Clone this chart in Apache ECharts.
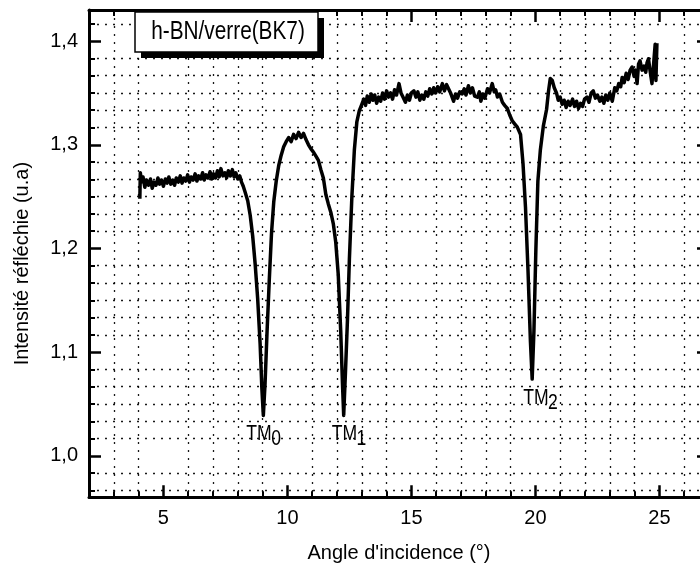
<!DOCTYPE html>
<html>
<head>
<meta charset="utf-8">
<script src="https://cdn.jsdelivr.net/npm/echarts@6/dist/echarts.min.js"></script>
<style>
  html, body { margin: 0; padding: 0; background: #fff; }
  #chart { width: 700px; height: 570px; }
</style>
</head>
<body>
<div id="chart"></div>
<script>
// Reflected intensity versus angle of incidence, h-BN film on BK7 glass
const angle = [
  4.05, 4.07, 4.12, 4.18, 4.25, 4.32, 4.4, 4.48, 4.55, 4.62, 4.7, 4.78, 4.85, 4.92,
  5.0, 5.08, 5.15, 5.22, 5.3, 5.38, 5.45, 5.52, 5.6, 5.68, 5.75, 5.82, 5.9, 5.98,
  6.05, 6.12, 6.2, 6.28, 6.35, 6.42, 6.5, 6.58, 6.65, 6.72, 6.8, 6.88, 6.95,
  7.02, 7.1, 7.18, 7.25, 7.32, 7.4, 7.48, 7.55, 7.62, 7.7, 7.78, 7.85, 7.92,
  8.0, 8.08, 8.15, 8.22, 8.3, 8.4, 8.5, 8.6, 8.7, 8.8, 8.9, 8.97, 9.03,
  9.1, 9.18, 9.27, 9.36, 9.45, 9.55, 9.65, 9.75, 9.85, 9.95,
  10.05, 10.15, 10.25, 10.35, 10.45, 10.55, 10.65, 10.75, 10.85, 10.95,
  11.05, 11.15, 11.25, 11.35, 11.45, 11.55, 11.65, 11.75, 11.85, 11.95,
  12.05, 12.15, 12.22, 12.27, 12.34, 12.42, 12.5, 12.6, 12.7, 12.8, 12.9,
  13.0, 13.08, 13.15, 13.22, 13.3, 13.38, 13.45, 13.52, 13.6, 13.68, 13.76, 13.84, 13.92,
  14.0, 14.08, 14.16, 14.24, 14.32, 14.4, 14.5, 14.58, 14.66, 14.76, 14.84, 14.92,
  15.0, 15.1, 15.18, 15.26, 15.34, 15.42, 15.5, 15.58, 15.66, 15.74, 15.82, 15.9, 15.98,
  16.06, 16.14, 16.25, 16.33, 16.42, 16.5, 16.58, 16.7, 16.78, 16.86, 16.95,
  17.05, 17.13, 17.2, 17.3, 17.38, 17.46, 17.55, 17.66, 17.74, 17.8, 17.88, 17.96,
  18.07, 18.15, 18.26, 18.34, 18.4, 18.47, 18.56, 18.67, 18.76, 18.87, 18.96,
  19.07, 19.17, 19.27, 19.4, 19.5, 19.6, 19.7, 19.8, 19.87, 19.94,
  20.02, 20.1, 20.2, 20.32, 20.45, 20.53, 20.6, 20.68, 20.76, 20.85, 20.92,
  21.0, 21.08, 21.16, 21.24, 21.32, 21.4, 21.5, 21.58, 21.66, 21.74, 21.82, 21.9, 21.98,
  22.08, 22.16, 22.25, 22.33, 22.42, 22.5, 22.6, 22.68, 22.76, 22.84, 22.92,
  23.0, 23.1, 23.2, 23.28, 23.36, 23.44, 23.5, 23.58, 23.66, 23.74, 23.82, 23.9, 23.98,
  24.04, 24.1, 24.16, 24.22, 24.3, 24.38, 24.45, 24.5, 24.56, 24.62, 24.7, 24.76, 24.83, 24.86, 24.9
];
const intensity = [
  1.248, 1.273, 1.264, 1.269, 1.259, 1.266, 1.261, 1.267, 1.258, 1.264, 1.261, 1.268, 1.262, 1.266,
  1.260, 1.267, 1.263, 1.269, 1.262, 1.266, 1.261, 1.268, 1.264, 1.270, 1.263, 1.268, 1.265, 1.271,
  1.264, 1.269, 1.266, 1.272, 1.265, 1.270, 1.267, 1.273, 1.266, 1.271, 1.268, 1.274, 1.267,
  1.272, 1.268, 1.275, 1.269, 1.277, 1.270, 1.273, 1.268, 1.275, 1.270, 1.276, 1.269, 1.273,
  1.267, 1.270, 1.264, 1.260, 1.254, 1.246, 1.232, 1.212, 1.185, 1.152, 1.108, 1.065, 1.039,
  1.070, 1.120, 1.170, 1.215, 1.245, 1.265, 1.280, 1.290, 1.298, 1.303,
  1.307, 1.303, 1.310, 1.306, 1.312, 1.307, 1.311, 1.305, 1.300, 1.296,
  1.293, 1.289, 1.285, 1.276, 1.268, 1.252, 1.243, 1.235, 1.224, 1.206,
  1.175, 1.120, 1.070, 1.039, 1.080, 1.130, 1.190, 1.250, 1.295, 1.322, 1.333,
  1.339, 1.344, 1.338, 1.347, 1.341, 1.349, 1.343, 1.348, 1.340, 1.346, 1.342, 1.350, 1.344,
  1.352, 1.346, 1.350, 1.344, 1.353, 1.348, 1.359, 1.350, 1.346, 1.341, 1.348, 1.343,
  1.350, 1.352, 1.346, 1.351, 1.343, 1.348, 1.344, 1.351, 1.347, 1.354, 1.349, 1.355, 1.350,
  1.356, 1.351, 1.359, 1.352, 1.358, 1.359, 1.350, 1.342, 1.349, 1.345, 1.351,
  1.349, 1.354, 1.348, 1.357, 1.350, 1.355, 1.347, 1.346, 1.351, 1.342, 1.349, 1.345,
  1.354, 1.350, 1.359, 1.351, 1.353, 1.346, 1.349, 1.341, 1.338, 1.335, 1.329,
  1.323, 1.320, 1.317, 1.310, 1.282, 1.240, 1.180, 1.110, 1.074, 1.120,
  1.200, 1.265, 1.295, 1.318, 1.334, 1.352, 1.364, 1.362, 1.355, 1.350, 1.343,
  1.346, 1.339, 1.343, 1.336, 1.342, 1.338, 1.344, 1.337, 1.342, 1.335, 1.340, 1.337, 1.344,
  1.346, 1.341, 1.350, 1.352, 1.345, 1.348, 1.342, 1.346, 1.340, 1.348, 1.343,
  1.350, 1.342, 1.355, 1.352, 1.359, 1.356, 1.365, 1.360, 1.369, 1.363, 1.372, 1.375, 1.366,
  1.372, 1.359, 1.378, 1.381, 1.372, 1.376, 1.370, 1.379, 1.383, 1.372, 1.359, 1.376, 1.397, 1.362, 1.398
];

// Guided-mode resonances (TM polarisation) at the reflectivity minima
const modeOrders = ['0', '1', '2'];
const modeAngles = [9.03, 12.27, 19.87];

// Axis ticks
const xMajorTicks = [5, 10, 15, 20, 25];
const xMinorTicks = [3, 4, 6, 7, 8, 9, 11, 12, 13, 14, 16, 17, 18, 19, 21, 22, 23, 24, 26];
const yMajorTicks = [1.0, 1.1, 1.2, 1.3, 1.4];
const yMinorSteps = 6;

const sampleName = 'h-BN/verre(BK7)';
const xTitle = "Angle d'incidence (°)";
const yTitle = 'Intensité réfléchie (u.a)';

const AXIS_FONT = '"Liberation Sans", Arial, Helvetica, sans-serif';
const X_RANGE = [2, 27];
const Y_RANGE = [0.96, 1.43];
const DOT = 'rgba(0,0,0,0.9)';

// minor y ticks: six subdivisions per 0.1, majors excluded
const yMinorTicks = [];
[0.9].concat(yMajorTicks).forEach(m => {
  for (let j = 1; j < yMinorSteps; j++) {
    const v = +(m + j * 0.1 / yMinorSteps).toFixed(5);
    if (v > Y_RANGE[0] && v < Y_RANGE[1]) yMinorTicks.push(v);
  }
});

function majorAxis(ticks, extra) {
  return Object.assign({
    type: 'value',
    axisLine: { show: true, onZero: false, lineStyle: { color: '#000', width: 3 } },
    axisTick: { show: true, inside: true, length: 12, customValues: ticks, lineStyle: { color: '#000', width: 2.5 } },
    axisLabel: { show: false },
    splitLine: { show: false }
  }, extra);
}
function minorAxis(ticks, extra, withGrid) {
  return Object.assign({
    type: 'value',
    axisLine: { show: false },
    axisTick: { show: true, inside: true, length: 6, customValues: ticks, lineStyle: { color: '#000', width: 2 } },
    axisLabel: { show: false },
    splitLine: withGrid
      ? { show: true, lineStyle: { color: DOT, type: [2, 6], width: 1.3 } }
      : { show: false }
  }, extra);
}

const tickLabelBase = { show: true, color: '#000', fontSize: 20, fontFamily: AXIS_FONT, margin: 11 };

const xRange = { min: X_RANGE[0], max: X_RANGE[1] };
const yRange = { min: Y_RANGE[0], max: Y_RANGE[1] };

const option = {
  animation: false,
  backgroundColor: '#fff',
  grid: {
    left: 89, top: 10, right: -9, bottom: 72.7,
    containLabel: false, outerBoundsMode: 'none'
  },
  xAxis: [
    majorAxis(xMajorTicks, Object.assign({
      position: 'bottom',
      axisLabel: Object.assign({}, tickLabelBase, { customValues: xMajorTicks, formatter: v => String(v) }),
      name: xTitle, nameLocation: 'middle', nameGap: 46,
      nameTextStyle: { color: '#000', fontSize: 20, fontFamily: AXIS_FONT }
    }, xRange)),
    minorAxis(xMinorTicks, Object.assign({ position: 'bottom' }, xRange), true),
    majorAxis(xMajorTicks, Object.assign({ position: 'top' }, xRange)),
    minorAxis(xMinorTicks, Object.assign({ position: 'top' }, xRange), false)
  ],
  yAxis: [
    majorAxis(yMajorTicks, Object.assign({
      position: 'left',
      axisLabel: Object.assign({}, tickLabelBase, {
        customValues: yMajorTicks, formatter: v => v.toFixed(1).replace('.', ',')
      }),
      name: yTitle, nameLocation: 'middle', nameGap: 57, nameRotate: 90,
      nameTextStyle: { color: '#000', fontSize: 20, fontFamily: AXIS_FONT, padding: [0, 20, 0, 0] }
    }, yRange)),
    minorAxis(yMinorTicks, Object.assign({ position: 'left' }, yRange), true),
    majorAxis(yMajorTicks, Object.assign({ position: 'right' }, yRange)),
    minorAxis(yMinorTicks, Object.assign({ position: 'right' }, yRange), false)
  ],
  graphic: {
    elements: [
      { type: 'rect', x: 141, y: 18, z: 100, shape: { width: 183, height: 40 }, style: { fill: '#000' } },
      { type: 'rect', x: 135, y: 12, z: 101, shape: { width: 183, height: 40 },
        style: { fill: '#fff', stroke: '#000', lineWidth: 1.5 } },
      { type: 'text', x: 228, y: 32, z: 102, scaleX: 0.8,
        style: { text: sampleName, fontSize: 26, fontFamily: AXIS_FONT, fill: '#000', align: 'center', verticalAlign: 'middle' } }
    ]
  },
  series: [
    {
      name: sampleName,
      type: 'line',
      xAxisIndex: 0, yAxisIndex: 0,
      data: angle.map((a, i) => [a, intensity[i]]),
      showSymbol: false, symbol: 'none',
      lineStyle: { color: '#000', width: 3.5, join: 'round' },
      silent: true, z: 5
    },
    {
      name: 'TM',
      type: 'custom',
      xAxisIndex: 0, yAxisIndex: 0,
      silent: true, z: 6,
      data: modeAngles.map((a, i) => {
        const k = angle.indexOf(a);
        return [angle[k], intensity[k], i];
      }),
      encode: { x: 0, y: 1 },
      renderItem: (params, api) => {
        const p = api.coord([api.value(0), api.value(1)]);
        const i = api.value(2);
        const shift = [0, 5, 8][i];
        return {
          type: 'group',
          x: p[0] - 17 + shift, y: p[1] + 8,
          scaleX: 0.8,
          children: [
            { type: 'text', x: 0, y: 0,
              style: { text: 'TM', fontSize: 22, fontFamily: AXIS_FONT, fill: '#000', align: 'left', verticalAlign: 'top' } },
            { type: 'text', x: 31, y: 5,
              style: { text: modeOrders[i], fontSize: 22, fontFamily: AXIS_FONT, fill: '#000', align: 'left', verticalAlign: 'top' } }
          ]
        };
      }
    }
  ]
};

const chart = echarts.init(document.getElementById('chart'), null, { renderer: 'canvas' });
chart.setOption(option);
</script>
</body>
</html>
